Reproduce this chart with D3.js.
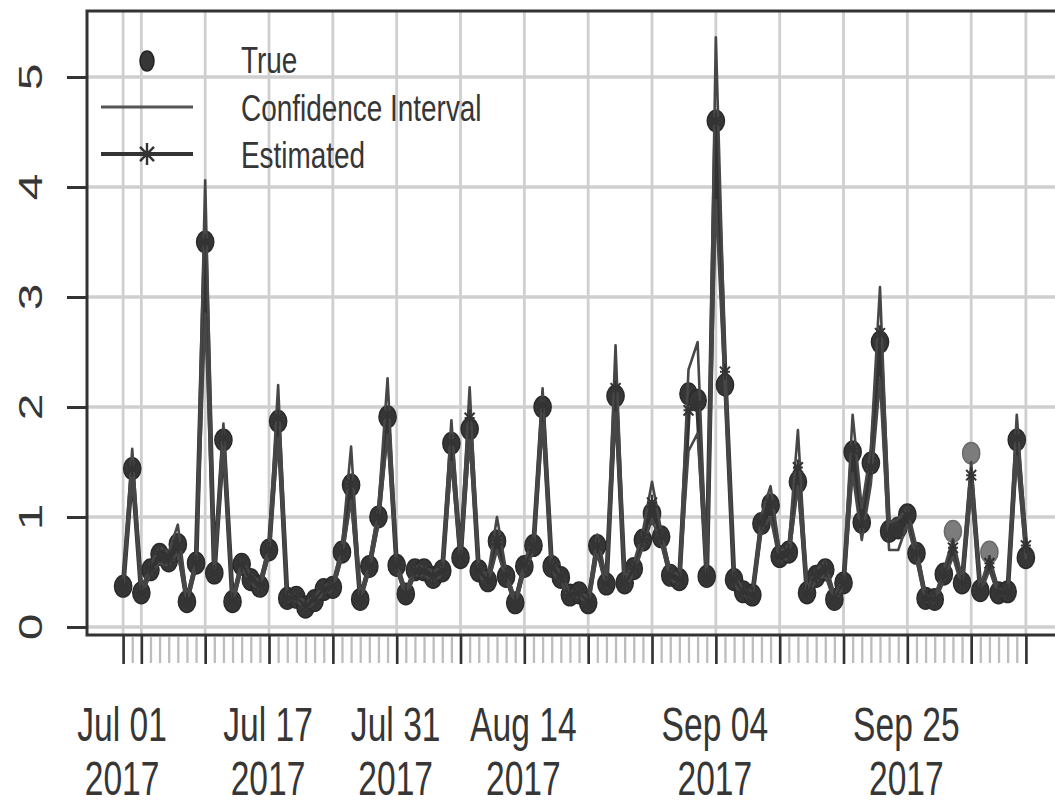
<!DOCTYPE html>
<html>
<head>
<meta charset="utf-8">
<script src="https://cdn.jsdelivr.net/npm/d3@7/dist/d3.min.js"></script>
<style>
  body { margin: 0; background: #ffffff; }
  svg { display: block; }
  text { font-family: "Liberation Sans", Arial, Helvetica, sans-serif; fill: #363636; }
</style>
</head>
<body>
<svg id="chart" width="1055" height="800"></svg>
<script>
// Daily series starting on this date
const startDate = "2017-07-01";

// Observed ("True") values, one per day
const trueValues = [
  0.37, 1.44, 0.31, 0.52, 0.66, 0.60, 0.75, 0.23, 0.58, 3.50,
  0.49, 1.70, 0.23, 0.57, 0.43, 0.37, 0.70, 1.87, 0.26, 0.27,
  0.18, 0.24, 0.34, 0.36, 0.68, 1.29, 0.25, 0.55, 1.00, 1.91,
  0.56, 0.30, 0.52, 0.52, 0.45, 0.51, 1.67, 0.63, 1.80, 0.51,
  0.42, 0.78, 0.46, 0.22, 0.55, 0.74, 2.00, 0.55, 0.45, 0.29,
  0.31, 0.22, 0.74, 0.39, 2.10, 0.40, 0.53, 0.79, 1.03, 0.82,
  0.47, 0.43, 2.12, 2.06, 0.46, 4.60, 2.20, 0.43, 0.32, 0.29,
  0.94, 1.11, 0.64, 0.68, 1.32, 0.31, 0.46, 0.52, 0.25, 0.40,
  1.59, 0.95, 1.49, 2.59, 0.87, 0.90, 1.02, 0.67, 0.26, 0.25,
  0.48, 0.87, 0.40, 1.58, 0.33, 0.68, 0.31, 0.32, 1.70, 0.63
];

// Model estimates
const estimated = [
  0.37, 1.44, 0.31, 0.53, 0.66, 0.62, 0.74, 0.24, 0.58, 3.50,
  0.49, 1.72, 0.24, 0.57, 0.44, 0.38, 0.70, 1.90, 0.26, 0.27,
  0.19, 0.25, 0.34, 0.37, 0.68, 1.30, 0.26, 0.55, 1.00, 1.93,
  0.56, 0.30, 0.51, 0.51, 0.46, 0.51, 1.68, 0.63, 1.90, 0.51,
  0.42, 0.79, 0.47, 0.22, 0.56, 0.74, 2.02, 0.55, 0.45, 0.29,
  0.31, 0.23, 0.74, 0.39, 2.17, 0.40, 0.53, 0.80, 1.13, 0.82,
  0.47, 0.43, 1.97, 2.02, 0.46, 4.60, 2.32, 0.43, 0.32, 0.29,
  0.95, 1.12, 0.64, 0.68, 1.45, 0.31, 0.47, 0.53, 0.26, 0.40,
  1.62, 0.93, 1.45, 2.67, 0.84, 0.88, 1.01, 0.67, 0.26, 0.25,
  0.47, 0.72, 0.40, 1.38, 0.33, 0.58, 0.31, 0.32, 1.72, 0.74
];

// Lower bound of the confidence interval
const ciLower = [
  0.33, 1.36, 0.28, 0.48, 0.58, 0.56, 0.68, 0.21, 0.54, 2.85,
  0.45, 1.60, 0.21, 0.53, 0.40, 0.34, 0.65, 1.72, 0.23, 0.24,
  0.16, 0.22, 0.31, 0.33, 0.63, 1.15, 0.23, 0.51, 0.93, 1.75,
  0.52, 0.27, 0.47, 0.47, 0.42, 0.47, 1.50, 0.58, 1.70, 0.47,
  0.38, 0.70, 0.43, 0.19, 0.51, 0.68, 1.85, 0.50, 0.41, 0.26,
  0.28, 0.20, 0.67, 0.35, 1.95, 0.36, 0.48, 0.73, 0.98, 0.76,
  0.43, 0.39, 1.60, 1.76, 0.42, 3.88, 2.15, 0.39, 0.29, 0.26,
  0.88, 1.00, 0.59, 0.62, 1.28, 0.28, 0.42, 0.47, 0.23, 0.36,
  1.40, 0.79, 1.30, 2.25, 0.70, 0.70, 0.94, 0.61, 0.23, 0.22,
  0.42, 0.64, 0.36, 1.25, 0.30, 0.52, 0.28, 0.29, 1.55, 0.62
];

// Upper bound of the confidence interval
const ciUpper = [
  0.41, 1.62, 0.34, 0.57, 0.72, 0.68, 0.93, 0.27, 0.62, 4.06,
  0.53, 1.85, 0.27, 0.61, 0.48, 0.41, 0.75, 2.20, 0.29, 0.30,
  0.22, 0.28, 0.37, 0.40, 0.73, 1.64, 0.29, 0.59, 1.08, 2.26,
  0.60, 0.33, 0.55, 0.55, 0.50, 0.55, 1.88, 0.68, 2.18, 0.55,
  0.46, 1.00, 0.51, 0.25, 0.60, 0.80, 2.17, 0.60, 0.49, 0.32,
  0.34, 0.26, 0.84, 0.43, 2.56, 0.44, 0.58, 0.87, 1.32, 0.88,
  0.51, 0.47, 2.34, 2.59, 0.50, 5.36, 2.45, 0.47, 0.35, 0.32,
  1.02, 1.28, 0.69, 0.74, 1.79, 0.34, 0.52, 0.60, 0.29, 0.44,
  1.93, 1.08, 1.62, 3.09, 0.95, 0.98, 1.08, 0.73, 0.29, 0.28,
  0.52, 0.80, 0.44, 1.50, 0.36, 0.64, 0.34, 0.35, 1.93, 0.80
];

const yTicks = [0, 1, 2, 3, 4, 5];
const xLabelDates = ["2017-07-01", "2017-07-17", "2017-07-31", "2017-08-14", "2017-09-04", "2017-09-25"];
const legendLabels = ["True", "Confidence Interval", "Estimated"];

// ---- layout ----
const plot = { left: 87, top: 11, right: 1062, bottom: 635 };
const fontAxis = 48, squeezeAxis = 0.70;
const fontLegend = 37, squeezeLegend = 0.755;
const ink = "#333333", gridCol = "#cfcfcf";

const parse = d3.utcParse("%Y-%m-%d");
const first = parse(startDate);
const dates = trueValues.map((_, i) => d3.utcDay.offset(first, i));
const last = dates[dates.length - 1];

// 4% padding on both ends, like a base-graphics plot region
const padMs = (last - first) * 0.04;
const x = d3.scaleUtc()
  .domain([new Date(+first - padMs), new Date(+last + padMs)])
  .range([plot.left, plot.right]);
const y = d3.scaleLinear().domain([-0.073, 5.6]).range([plot.bottom, plot.top]);

// major marks: first day, each Monday, last day
const majorDates = [first, ...d3.utcMonday.range(first, last), last];

const svg = d3.select("#chart");

// grid
const grid = svg.append("g");
grid.selectAll("line.h").data(yTicks).join("line")
  .attr("x1", plot.left).attr("x2", plot.right)
  .attr("y1", d => y(d)).attr("y2", d => y(d))
  .attr("stroke", gridCol).attr("stroke-width", 3.6);
grid.selectAll("line.v").data(majorDates).join("line")
  .attr("x1", d => x(d)).attr("x2", d => x(d))
  .attr("y1", plot.top).attr("y2", plot.bottom)
  .attr("stroke", gridCol).attr("stroke-width", 2.8);

// x axis: daily minor ticks, then major ticks
const xMinor = d3.axisBottom(x).tickValues(dates).tickSize(26).tickFormat("");
const gMinor = svg.append("g").attr("transform", `translate(0,${plot.bottom + 2})`).call(xMinor);
gMinor.select(".domain").remove();
gMinor.selectAll(".tick line").attr("stroke", "#bdbdbd").attr("stroke-width", 2.3);

const xMajor = d3.axisBottom(x).tickValues(majorDates).tickSize(29).tickFormat("");
const gMajor = svg.append("g").attr("transform", `translate(0,${plot.bottom})`).call(xMajor);
gMajor.select(".domain").remove();
gMajor.selectAll(".tick line").attr("stroke", ink).attr("stroke-width", 2.6);

// x labels: "Mon dd" over year
const fmtDay = d3.utcFormat("%b %d"), fmtYear = d3.utcFormat("%Y");
const xl = svg.append("g").selectAll("g").data(xLabelDates.map(parse)).join("g")
  .attr("transform", d => `translate(${x(d) - 1},741)`);
const xt = xl.append("text").attr("transform", `scale(${squeezeAxis},1)`)
  .attr("text-anchor", "middle").attr("font-size", fontAxis);
xt.append("tspan").attr("x", 0).attr("y", 0).text(fmtDay);
xt.append("tspan").attr("x", 0).attr("y", 54).text(fmtYear);

// y axis
const yAxis = d3.axisLeft(y).tickValues(yTicks).tickSize(20).tickFormat("");
const gY = svg.append("g").attr("transform", `translate(${plot.left},0)`).call(yAxis);
gY.select(".domain").remove();
gY.selectAll(".tick line").attr("stroke", ink).attr("stroke-width", 3);

svg.append("g").selectAll("text").data(yTicks).join("text")
  .attr("transform", d => `translate(42,${y(d)}) rotate(-90) scale(1,${squeezeAxis})`)
  .attr("text-anchor", "middle").attr("font-size", fontAxis)
  .text(d => d);

// plot frame
svg.append("rect")
  .attr("x", plot.left).attr("y", plot.top)
  .attr("width", plot.right - plot.left).attr("height", plot.bottom - plot.top)
  .attr("fill", "none").attr("stroke", ink).attr("stroke-width", 3);

// marks
const marks = svg.append("g");

// observed points, lighter where they fall outside the interval
const outside = i => trueValues[i] > ciUpper[i] || trueValues[i] < ciLower[i];
marks.append("g").selectAll("ellipse").data(trueValues).join("ellipse")
  .attr("cx", (d, i) => x(dates[i])).attr("cy", d => y(d))
  .attr("rx", 8.6).attr("ry", 10.8)
  .attr("fill", (d, i) => outside(i) ? "#7c7c7c" : "#363636")
  .attr("stroke", (d, i) => outside(i) ? "#6a6a6a" : "#2a2a2a")
  .attr("stroke-width", 1.5);

const lineOf = vals => d3.line().x((d, i) => x(dates[i])).y(d => y(d))(vals);

marks.append("path").attr("d", lineOf(estimated))
  .attr("fill", "none").attr("stroke", "#333333").attr("stroke-width", 4.8)
  .attr("stroke-linejoin", "round");

[ciLower, ciUpper].forEach(vals => {
  marks.append("path").attr("d", lineOf(vals))
    .attr("fill", "none").attr("stroke", "#474747").attr("stroke-width", 2.6)
    .attr("stroke-linejoin", "round");
});

// asterisk marker
const star = (cx, cy, h, w) =>
  `M${cx},${cy - h}V${cy + h}M${cx - w},${cy}H${cx + w}` +
  `M${cx - w},${cy - h * 0.65}L${cx + w},${cy + h * 0.65}` +
  `M${cx - w},${cy + h * 0.65}L${cx + w},${cy - h * 0.65}`;

marks.append("path")
  .attr("d", estimated.map((d, i) => star(x(dates[i]), y(d), 8, 5)).join(""))
  .attr("fill", "none").attr("stroke", "#333333").attr("stroke-width", 2);

// legend
const lg = svg.append("g");
lg.append("ellipse").attr("cx", 147).attr("cy", 61).attr("rx", 7).attr("ry", 10)
  .attr("fill", "#363636").attr("stroke", "#222").attr("stroke-width", 1.5);
lg.append("line").attr("x1", 101).attr("x2", 193).attr("y1", 107).attr("y2", 107)
  .attr("stroke", "#555555").attr("stroke-width", 3.2);
lg.append("line").attr("x1", 101).attr("x2", 193).attr("y1", 154).attr("y2", 154)
  .attr("stroke", "#333333").attr("stroke-width", 4);
lg.append("path").attr("d", star(147, 154, 11, 7))
  .attr("fill", "none").attr("stroke", "#333333").attr("stroke-width", 2.4);
lg.selectAll("text").data(legendLabels).join("text")
  .attr("transform", (d, i) => `translate(241,${73 + i * 47.5}) scale(${squeezeLegend},1)`)
  .attr("font-size", fontLegend)
  .text(d => d);
</script>
</body>
</html>
